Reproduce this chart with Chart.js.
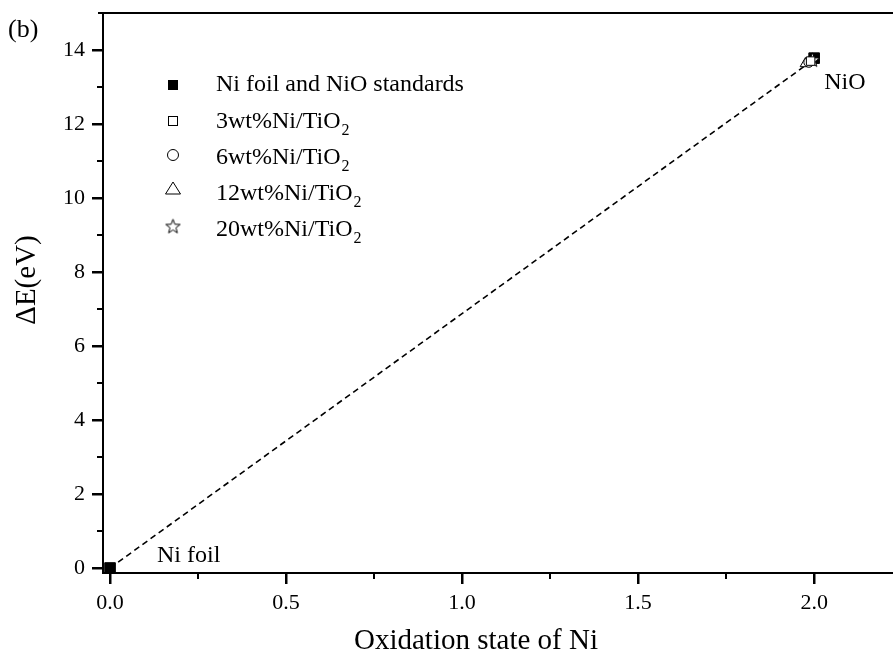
<!DOCTYPE html>
<html>
<head>
<meta charset="utf-8">
<script src="https://cdn.jsdelivr.net/npm/chart.js@4.4.0/dist/chart.umd.min.js"></script>
<style>
  body { margin: 0; background: #fff; }
  canvas { display: block; }
</style>
</head>
<body>
<canvas id="myChart" width="893" height="659"></canvas>
<script>
// tick values
const xTicks = [0, 0.5, 1.0, 1.5, 2.0];
const xMinorTicks = [0.25, 0.75, 1.25, 1.75];
const yTicks = [0, 2, 4, 6, 8, 10, 12, 14];
const yMinorTicks = [1, 3, 5, 7, 9, 11, 13];

// Ni foil (0) and NiO (2) standards
const stdX = [0, 2.0];
const stdY = [0, 13.78];

// Ni/TiO2 samples
const sampleNames = ['3wt%Ni/TiO', '6wt%Ni/TiO', '12wt%Ni/TiO', '20wt%Ni/TiO'];
const sampleX = [1.99, 1.985, 1.975, 1.995];
const sampleY = [13.70, 13.67, 13.63, 13.74];

// dashed guide line
const fitX = [0, 2.0];
const fitY = [0, 13.75];

const serif = '"Liberation Serif", "Times New Roman", serif';

// outlined 5 point star used as a point style
function makeStar(size) {
    const c = document.createElement('canvas');
    c.width = size; c.height = size;
    const g = c.getContext('2d');
    const cx = size / 2, cy = size / 2 + 0.8, R = size / 2 - 1, r = R * 0.42;
    g.beginPath();
    for (let i = 0; i < 10; i++) {
        const a = -Math.PI / 2 + i * Math.PI / 5;
        const rad = i % 2 === 0 ? R : r;
        g.lineTo(cx + rad * Math.cos(a), cy + rad * Math.sin(a));
    }
    g.closePath();
    g.fillStyle = '#fff';
    g.fill();
    g.strokeStyle = '#000';
    g.lineWidth = 1;
    g.stroke();
    return c;
}
const starImg = makeStar(17);

const sampleStyles = ['rect', 'circle', 'triangle', starImg];
const sampleRadius = [6, 5, 6, 8];

function pts(xs, ys) {
    return xs.map((x, i) => ({x: x, y: ys[i]}));
}

const datasets = [{
    label: 'Ni foil and NiO standards',
    data: pts(stdX, stdY),
    pointStyle: 'rect',
    pointRadius: 7.5,
    backgroundColor: '#000',
    borderColor: '#000',
    borderWidth: 1,
    clip: false,
    order: 2
}];
sampleNames.forEach((name, i) => {
    datasets.push({
        label: name + '2',
        data: [{x: sampleX[i], y: sampleY[i]}],
        pointStyle: sampleStyles[i],
        pointRadius: sampleRadius[i],
        backgroundColor: '#fff',
        borderColor: '#000',
        borderWidth: 1,
        clip: false,
        order: 1
    });
});
datasets.push({
    type: 'line',
    label: 'fit',
    data: pts(fitX, fitY),
    showLine: true,
    borderColor: '#000',
    borderWidth: 1.6,
    borderDash: [6, 4],
    pointRadius: 0,
    fill: false,
    order: 10
});

// legend rows inside the plot
const legendRows = [
    {text: 'Ni foil and NiO standards', sub: '', style: 'fillrect', my: 85, ty: 85},
    {text: sampleNames[0], sub: '2', style: 'rect', my: 121, ty: 122},
    {text: sampleNames[1], sub: '2', style: 'circle', my: 155, ty: 158},
    {text: sampleNames[2], sub: '2', style: 'triangle', my: 189, ty: 194},
    {text: sampleNames[3], sub: '2', style: 'star', my: 226, ty: 230}
];

function drawMarker(ctx, style, x, y) {
    ctx.save();
    ctx.lineWidth = 1;
    ctx.strokeStyle = '#000';
    ctx.fillStyle = '#fff';
    if (style === 'fillrect') {
        ctx.fillStyle = '#000';
        ctx.fillRect(x - 5, y - 5, 10, 10);
    } else if (style === 'rect') {
        ctx.strokeRect(x - 4.5, y - 4.5, 9, 9);
    } else if (style === 'circle') {
        ctx.beginPath();
        ctx.arc(x, y, 5.5, 0, Math.PI * 2);
        ctx.stroke();
    } else if (style === 'triangle') {
        ctx.beginPath();
        ctx.moveTo(x, y - 7);
        ctx.lineTo(x + 7.5, y + 5);
        ctx.lineTo(x - 7.5, y + 5);
        ctx.closePath();
        ctx.stroke();
    } else if (style === 'star') {
        ctx.drawImage(starImg, x - 8.5, y - 8.5);
    }
    ctx.restore();
}

function tickMarks(chart, values, horizontal, len) {
    const ctx = chart.ctx;
    const a = chart.chartArea;
    const s = horizontal ? chart.scales.x : chart.scales.y;
    ctx.save();
    ctx.strokeStyle = '#000';
    ctx.lineWidth = 2;
    ctx.beginPath();
    values.forEach(v => {
        const p = Math.round(s.getPixelForValue(v));
        if (horizontal) {
            ctx.moveTo(p, a.bottom);
            ctx.lineTo(p, a.bottom + len);
        } else {
            ctx.moveTo(a.left, p);
            ctx.lineTo(a.left - len, p);
        }
    });
    ctx.stroke();
    ctx.restore();
}

const decor = {
    id: 'decor',
    beforeDatasetsDraw(chart) {
        const ctx = chart.ctx;
        const a = chart.chartArea;
        ctx.save();
        ctx.strokeStyle = '#000';
        ctx.lineWidth = 2;
        ctx.beginPath();
        ctx.moveTo(a.left - 5, a.top);
        ctx.lineTo(a.right, a.top);
        ctx.stroke();
        ctx.restore();
    },
    afterDatasetsDraw(chart) {
        const ctx = chart.ctx;
        const xs = chart.scales.x, ys = chart.scales.y;
        ctx.save();
        ctx.fillStyle = '#000';
        ctx.textBaseline = 'middle';

        // legend
        legendRows.forEach(r => {
            drawMarker(ctx, r.style, 173, r.my);
            ctx.font = '24px ' + serif;
            ctx.textAlign = 'left';
            ctx.fillText(r.text, 216, r.ty);
            if (r.sub) {
                const w = ctx.measureText(r.text).width;
                ctx.font = '16px ' + serif;
                ctx.fillText(r.sub, 216 + w + 1, r.ty + 9);
            }
        });

        // point labels
        ctx.font = '24px ' + serif;
        ctx.textAlign = 'left';
        ctx.fillText('NiO', xs.getPixelForValue(stdX[1]) + 10, ys.getPixelForValue(stdY[1]) + 25);
        ctx.fillText('Ni foil', xs.getPixelForValue(stdX[0]) + 47, ys.getPixelForValue(stdY[0]) - 12);

        // panel label
        ctx.font = '26px ' + serif;
        ctx.fillText('(b)', 8, 30);

        // axis titles
        ctx.font = '29px ' + serif;
        ctx.textAlign = 'center';
        ctx.fillText('Oxidation state of Ni', 476, 641);
        ctx.translate(27, 280);
        ctx.rotate(-Math.PI / 2);
        ctx.fillText('\u0394E(eV)', 0, 0);
        ctx.restore();
    },
    afterDraw(chart) {
        // major and minor tick marks, drawn outward
        tickMarks(chart, xTicks, true, 11);
        tickMarks(chart, xMinorTicks, true, 6);
        tickMarks(chart, yTicks, false, 11);
        tickMarks(chart, yMinorTicks, false, 6);
    }
};

const tickFont = {family: serif, size: 22};

const ctx = document.getElementById('myChart').getContext('2d');
const myChart = new Chart(ctx, {
    type: 'scatter',
    data: {datasets: datasets},
    options: {
        responsive: false,
        animation: false,
        layout: {autoPadding: false, padding: {top: 13, right: 0, left: 0, bottom: 0}},
        plugins: {
            legend: {display: false},
            tooltip: {enabled: false}
        },
        scales: {
            x: {
                type: 'linear',
                min: -0.02,
                max: 2.224,
                afterBuildTicks: s => { s.ticks = xTicks.map(v => ({value: v})); },
                afterFit: s => { s.height = 86; s.paddingLeft = 0; s.paddingRight = 0; },
                grid: {drawOnChartArea: false, drawTicks: true, tickLength: 11, tickWidth: 2, tickColor: '#000'},
                border: {display: true, color: '#000', width: 2},
                ticks: {
                    font: tickFont,
                    color: '#000',
                    padding: 6,
                    maxRotation: 0,
                    callback: v => v.toFixed(1)
                }
            },
            y: {
                type: 'linear',
                min: -0.135,
                max: 15.0,
                afterBuildTicks: s => { s.ticks = yTicks.map(v => ({value: v})); },
                afterFit: s => { s.width = 103; s.paddingTop = 0; s.paddingBottom = 0; },
                grid: {drawOnChartArea: false, drawTicks: true, tickLength: 11, tickWidth: 2, tickColor: '#000'},
                border: {display: true, color: '#000', width: 2},
                ticks: {
                    font: tickFont,
                    color: '#000',
                    padding: 7,
                    callback: v => String(v)
                }
            }
        }
    },
    plugins: [decor]
});
</script>
</body>
</html>
